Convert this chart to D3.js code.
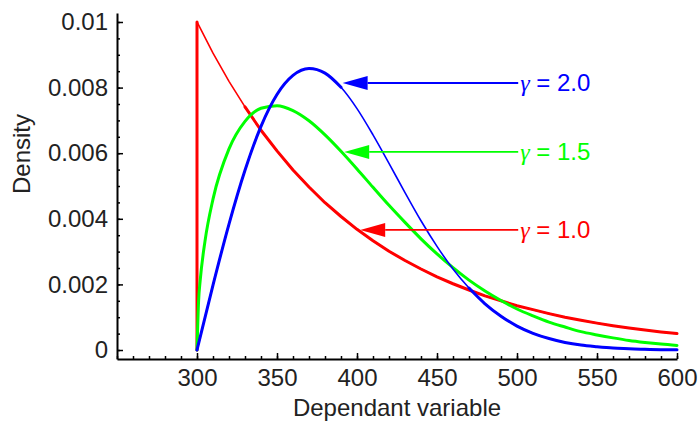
<!DOCTYPE html>
<html>
<head>
<meta charset="utf-8">
<script src="https://cdn.jsdelivr.net/npm/d3@7"></script>
<style>
  body { margin: 0; background: #fff; }
  text { font-family: "Liberation Sans", Arial, sans-serif; fill: #222; }
</style>
</head>
<body>
<div id="chart"></div>
<script>
// values (density vs dependant variable)
var gridX = [300, 310, 320, 330, 340, 350, 360, 370, 380, 390, 400, 410, 420, 430, 440, 450,
             460, 470, 480, 490, 500, 510, 520, 530, 540, 550, 560, 570, 580, 590, 600];

// gamma = 1.0 (starts with a vertical jump at 300)
var redX = [300].concat(gridX);
var redY = [0, 0.01, 0.00905, 0.00819, 0.00741, 0.00670, 0.00607, 0.00549, 0.00497, 0.00449, 0.00407,
            0.00368, 0.00333, 0.00301, 0.00273, 0.00247, 0.00223, 0.00202, 0.00183, 0.00165, 0.00150,
            0.00135, 0.00123, 0.00111, 0.00100, 0.00091, 0.00082, 0.00074, 0.00067, 0.00061, 0.00055, 0.00050];

// gamma = 1.5 (steep rise near 300, so a few extra points there)
var greenX = [300, 301, 302, 305].concat(gridX.slice(1));
var greenY = [0, 0.00150, 0.00212, 0.00332, 0.00460, 0.00613, 0.00697, 0.00737, 0.00745, 0.00730, 0.00699,
              0.00656, 0.00606, 0.00552, 0.00496, 0.00441, 0.00389, 0.00339, 0.00293, 0.00251, 0.00213,
              0.00180, 0.00151, 0.00125, 0.00104, 0.00085, 0.00070, 0.00056, 0.00046, 0.00037, 0.00029,
              0.00023, 0.00018, 0.00014];

// gamma = 2.0
var blueX = gridX;
var blueY = [0, 0.00198, 0.00384, 0.00548, 0.00682, 0.00779, 0.00837, 0.00858, 0.00844, 0.00801, 0.00736,
             0.00656, 0.00569, 0.00480, 0.00394, 0.00316, 0.00247, 0.00189, 0.00141, 0.00103, 0.00073,
             0.00051, 0.00035, 0.00023, 0.00015, 0.00010, 0.00006, 0.00004, 0.00002, 0.00001, 0.00001];

var seriesNames = ["1.0", "1.5", "2.0"];
var seriesColors = ["#ff0000", "#00ff00", "#0000ff"];

// annotation arrows: tip on the curve, label start (data units)
var labelTipX = [402, 392, 391];
var labelY = [0.00366, 0.00604, 0.00814];
var labelTextX = [502, 502, 502];

var xTicks = [300, 350, 400, 450, 500, 550, 600];
var yTicks = [0, 0.002, 0.004, 0.006, 0.008, 0.01];
var yTickLabels = ["0", "0.002", "0.004", "0.006", "0.008", "0.01"];

var width = 700,
    height = 428;

var svg = d3.select("#chart").append("svg")
    .attr("width", width)
    .attr("height", height);

var x = d3.scaleLinear().domain([250, 600]).range([117, 677]);
var y = d3.scaleLinear().domain([-0.000274, 0.010274]).range([359, 13]);

// x axis: minor ticks every 10, major every 50, ticks point inward
svg.append("g")
    .attr("transform", "translate(0," + y.range()[0] + ")")
    .call(d3.axisBottom(x).tickValues(d3.range(250, 601, 10)).tickSize(-3).tickSizeOuter(0).tickFormat(""))
    .call(g => g.select(".domain").attr("stroke-width", 2));
svg.append("g")
    .attr("transform", "translate(0," + y.range()[0] + ")")
    .call(d3.axisBottom(x).tickValues(xTicks).tickSize(-6).tickSizeOuter(0).tickPadding(10))
    .call(g => g.select(".domain").remove())
    .call(g => g.selectAll("text").attr("font-size", 24).attr("font-family", null));

// y axis
svg.append("g")
    .attr("transform", "translate(" + x.range()[0] + ",0)")
    .call(d3.axisLeft(y).tickValues(d3.range(0, 0.01001, 0.0005)).tickSize(-3).tickSizeOuter(0).tickFormat(""))
    .call(g => g.select(".domain").attr("stroke-width", 2));
svg.append("g")
    .attr("transform", "translate(" + x.range()[0] + ",0)")
    .call(d3.axisLeft(y).tickValues(yTicks).tickSize(-6).tickSizeOuter(0).tickPadding(9)
        .tickFormat((d, i) => yTickLabels[i]))
    .call(g => g.select(".domain").remove())
    .call(g => g.selectAll("text").attr("font-size", 24).attr("font-family", null));

svg.selectAll(".tick line").attr("stroke-width", 1.5);

// axis titles
svg.append("text")
    .attr("x", 397).attr("y", 416)
    .attr("text-anchor", "middle")
    .attr("font-size", 24)
    .text("Dependant variable");
svg.append("text")
    .attr("transform", "translate(30,154) rotate(-90)")
    .attr("text-anchor", "middle")
    .attr("font-size", 24)
    .text("Density");

// curves
var series = [
    { xs: redX, ys: redY, curve: d3.curveLinear, thin: [300, 330] },
    { xs: greenX, ys: greenY, curve: d3.curveMonotoneX, thin: null },
    { xs: blueX, ys: blueY, curve: d3.curveMonotoneX, thin: [390, 470] }
];

series.forEach(function(s, i) {
    var pts = s.xs.map((d, j) => [d, s.ys[j]]);
    var line = d3.line().x(d => x(d[0])).y(d => y(d[1])).curve(s.curve);
    var g = svg.append("g").attr("fill", "none").attr("stroke", seriesColors[i])
        .attr("stroke-linejoin", "round").attr("stroke-linecap", "round");
    if (s.thin) {
        // rendering of the original is thinner on part of the curve
        g.append("path").attr("d", line(pts)).attr("stroke-width", 1.6);
        g.append("path").attr("d", line(pts.filter(d => d[0] <= s.thin[0]))).attr("stroke-width", 3);
        g.append("path").attr("d", line(pts.filter(d => d[0] >= s.thin[1]))).attr("stroke-width", 3);
    } else {
        g.append("path").attr("d", line(pts)).attr("stroke-width", 3);
    }
});

// arrows + labels
var headLen = 25, headHalf = 7;
seriesNames.forEach(function(name, i) {
    var tx = x(labelTipX[i]), ty = y(labelY[i]), lx = x(labelTextX[i]);
    var c = seriesColors[i];
    svg.append("line")
        .attr("x1", tx + headLen).attr("y1", ty)
        .attr("x2", lx - 2).attr("y2", ty)
        .attr("stroke", c).attr("stroke-width", 1.8);
    svg.append("path")
        .attr("d", "M" + tx + "," + ty + "L" + (tx + headLen) + "," + (ty - headHalf) +
            "L" + (tx + headLen) + "," + (ty + headHalf) + "Z")
        .attr("fill", c);
    var t = svg.append("text")
        .attr("x", lx).attr("y", ty)
        .attr("dy", "0.35em")
        .attr("font-size", 24)
        .style("fill", c);
    t.append("tspan")
        .attr("font-family", "'Liberation Serif', 'Times New Roman', serif")
        .attr("font-style", "italic")
        .text("\u03b3");
    t.append("tspan").text(" = " + name);
});
</script>
</body>
</html>
